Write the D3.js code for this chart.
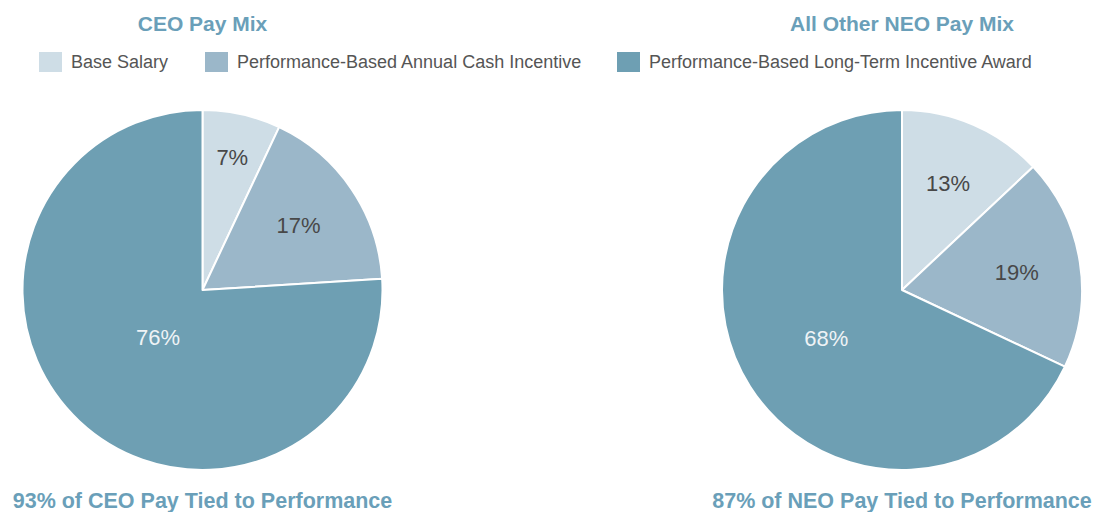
<!DOCTYPE html>
<html>
<head>
<meta charset="utf-8">
<script src="https://cdn.jsdelivr.net/npm/d3@7"></script>
<style>
  html, body { margin: 0; padding: 0; background: #fff; }
  svg { display: block; }
  text { font-family: "Liberation Sans", Arial, Helvetica, sans-serif; }
</style>
</head>
<body>
<svg id="chart" width="1093" height="512"></svg>
<script>
const categories = ["Base Salary", "Performance-Based Annual Cash Incentive", "Performance-Based Long-Term Incentive Award"];
const ceoValues = [7, 17, 76];
const neoValues = [13, 19, 68];
const chartTitles = ["CEO Pay Mix", "All Other NEO Pay Mix"];
const footnotes = ["93% of CEO Pay Tied to Performance", "87% of NEO Pay Tied to Performance"];

const colors = ["#cedde6", "#9bb7c9", "#6e9fb3"];
const labelColors = ["#484848", "#484848", "#eef3f6"];
const titleColor = "#6a9fb9";

const svg = d3.select("#chart");
const R = 180;
const centers = [{x: 202.5, y: 290}, {x: 902, y: 290}];
const series = [ceoValues, neoValues];

const color = d3.scaleOrdinal().domain(categories).range(colors);
const pie = d3.pie().sort(null).value(d => d.value);
const arc = d3.arc().innerRadius(0).outerRadius(R);

// label radius: large slices near a scaled centroid, small slices at ~0.645R pushed out until the padded text box fits
function labelRadius(d, bw, bh) {
  const alpha = d.endAngle - d.startAngle;
  if (alpha > Math.PI) {
    return 1.89 * (4 * R * Math.sin(alpha / 2)) / (3 * alpha);
  }
  const a = (d.startAngle + d.endAngle) / 2;
  const hw = bw / 2 + 9, hh = bh / 2 + 9;
  let rFit = 0;
  for (let r = 0; r <= R; r += 0.5) {
    const cx = r * Math.sin(a), cy = -r * Math.cos(a);
    const corners = [[cx - hw, cy - hh], [cx + hw, cy - hh], [cx - hw, cy + hh], [cx + hw, cy + hh]];
    const ok = corners.every(([x, y]) => {
      let ang = Math.atan2(x, -y);
      if (ang < 0) ang += 2 * Math.PI;
      return ang >= d.startAngle && ang <= d.endAngle;
    });
    if (ok) { rFit = r; break; }
  }
  return Math.max(0.645 * R, rFit);
}

series.forEach((vals, i) => {
  const data = vals.map((v, k) => ({cat: categories[k], value: v, idx: k}));
  const g = svg.append("g").attr("transform", `translate(${centers[i].x},${centers[i].y})`);
  const arcs = pie(data);
  g.selectAll("path").data(arcs).join("path")
    .attr("d", arc)
    .attr("fill", d => color(d.data.cat))
    .attr("stroke", "#fff")
    .attr("stroke-width", 2)
    .attr("stroke-linejoin", "round");
  g.selectAll("text").data(arcs).join("text")
    .attr("text-anchor", "middle")
    .attr("dy", "0.36em")
    .attr("font-size", 22)
    .attr("fill", d => labelColors[d.data.idx])
    .text(d => d.data.value + "%")
    .each(function(d) {
      const bb = this.getBBox();
      const r = labelRadius(d, bb.width, 16);
      const a = (d.startAngle + d.endAngle) / 2;
      d3.select(this).attr("transform", `translate(${r * Math.sin(a)},${-r * Math.cos(a)})`);
    });

  svg.append("text")
    .attr("x", centers[i].x).attr("y", 31)
    .attr("text-anchor", "middle")
    .attr("font-size", 21).attr("font-weight", "bold")
    .attr("fill", titleColor)
    .text(chartTitles[i]);

  svg.append("text")
    .attr("x", centers[i].x).attr("y", 508)
    .attr("text-anchor", "middle")
    .attr("font-size", 21.5).attr("font-weight", "bold")
    .attr("fill", titleColor)
    .text(footnotes[i]);
});

// Legend
const legendX = [39, 205, 617];
const lg = svg.append("g");
categories.forEach((c, k) => {
  const item = lg.append("g").attr("transform", `translate(${legendX[k]},52)`);
  item.append("rect").attr("width", 23).attr("height", 20).attr("fill", color(c));
  item.append("text").attr("x", 32).attr("y", 10).attr("dy", "0.36em")
    .attr("font-size", 18).attr("fill", "#555")
    .text(c);
});
</script>
</body>
</html>
